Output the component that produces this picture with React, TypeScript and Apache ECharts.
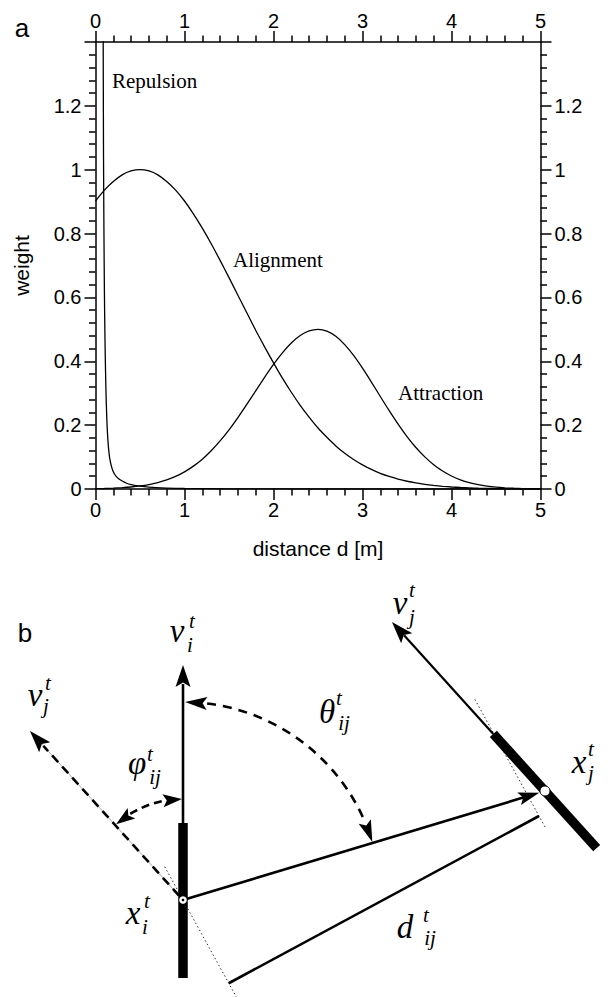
import React, { useEffect, useRef } from 'react';
import * as echarts from 'echarts';

// ---------- Data ----------
const distance = [0, 0.1, 0.2, 0.3, 0.4, 0.5, 0.6, 0.7, 0.8, 0.9, 1.0, 1.1, 1.2, 1.3, 1.4, 1.5, 1.6, 1.7, 1.8, 1.9, 2.0, 2.1, 2.2, 2.3, 2.4, 2.5, 2.6, 2.7, 2.8, 2.9, 3.0, 3.1, 3.2, 3.3, 3.4, 3.5, 3.6, 3.7, 3.8, 3.9, 4.0, 4.1, 4.2, 4.3, 4.4, 4.5, 4.6, 4.7, 4.8, 4.9, 5.0];
const alignment = [0.902, 0.936, 0.963, 0.984, 0.996, 1.0, 0.996, 0.984, 0.963, 0.936, 0.902, 0.862, 0.817, 0.768, 0.716, 0.662, 0.607, 0.552, 0.497, 0.445, 0.395, 0.347, 0.303, 0.262, 0.225, 0.191, 0.162, 0.135, 0.112, 0.0925, 0.0756, 0.0612, 0.0492, 0.0392, 0.031, 0.0243, 0.0189, 0.0145, 0.0111, 0.0084, 0.0063, 0.0047, 0.0035, 0.0025, 0.0018, 0.0013, 0.0009, 0.0006, 0.0004, 0.0003, 0.0002];
const attraction = [0.001, 0.0016, 0.0026, 0.0041, 0.0063, 0.0095, 0.0139, 0.0201, 0.0284, 0.0394, 0.0537, 0.0716, 0.0935, 0.12, 0.1506, 0.1854, 0.2238, 0.265, 0.3075, 0.3499, 0.3902, 0.4265, 0.4573, 0.4805, 0.495, 0.5, 0.4945, 0.4782, 0.4523, 0.4184, 0.3785, 0.335, 0.2897, 0.2452, 0.2029, 0.1642, 0.1299, 0.1006, 0.0762, 0.0564, 0.0408, 0.0289, 0.02, 0.0136, 0.009, 0.0058, 0.0037, 0.0023, 0.0014, 0.0008, 0.0005];
const repulsionD = [0.086, 0.09, 0.095, 0.1, 0.105, 0.11, 0.115, 0.12, 0.13, 0.14, 0.15, 0.16, 0.18, 0.2, 0.23, 0.26, 0.3, 0.35, 0.4, 0.48, 0.6, 0.8, 1.0, 1.5, 2.0, 3.0, 5.0];
const repulsionW = [1.45, 1.05, 0.8, 0.62, 0.5, 0.41, 0.34, 0.28, 0.2, 0.15, 0.118, 0.096, 0.07, 0.054, 0.04, 0.032, 0.025, 0.018, 0.014, 0.01, 0.006, 0.003, 0.0015, 0.0005, 0.0002, 0, 0];
const seriesNames = ['Repulsion', 'Alignment', 'Attraction'];
const xName = 'distance d [m]';
const yName = 'weight';

// ---------- Diagram helpers (panel b) ----------
const deg = Math.PI / 180;
const norm = (x: number, y: number) => { const n = Math.hypot(x, y); return [x / n, y / n]; };
const BLACK = '#000';

function arrowHead(tx: number, ty: number, dx: number, dy: number, len = 21, hw = 7) {
  const [ux, uy] = norm(dx, dy);
  const bx = tx - ux * len, by = ty - uy * len;
  const px = -uy, py = ux;
  const nx = tx - ux * len * 0.8, ny = ty - uy * len * 0.8;
  return {
    type: 'polygon', silent: true, z: 20,
    shape: { points: [[tx, ty], [bx + px * hw, by + py * hw], [nx, ny], [bx - px * hw, by - py * hw]] },
    style: { fill: BLACK },
  };
}
function seg(x1: number, y1: number, x2: number, y2: number, w: number, extra: any = {}) {
  return { type: 'line', silent: true, z: 10, shape: { x1, y1, x2, y2 }, style: { stroke: BLACK, lineWidth: w, fill: null, ...extra } };
}
function label(x: number, y: number, text: string, size: number, italic = true, family = '"Liberation Serif", "Times New Roman", serif', align = 'center', lh?: number) {
  return {
    type: 'text', silent: true, z: 30, x, y,
    style: { text, fontSize: size, fontFamily: family, fontStyle: italic ? 'italic' : 'normal', fill: BLACK, align, verticalAlign: 'middle', lineHeight: lh ?? Math.round(size * 0.8) },
  };
}
function arcArrow(cx: number, cy: number, r: number, tipAng: number, baseAng: number, len: number, hw: number) {
  const tx = cx + r * Math.cos(tipAng * deg), ty = cy + r * Math.sin(tipAng * deg);
  const bx = cx + r * Math.cos(baseAng * deg), by = cy + r * Math.sin(baseAng * deg);
  return arrowHead(tx, ty, tx - bx, ty - by, len, hw);
}

function buildDiagram() {
  const Pi = [183, 900];
  const Pj = [545, 791];
  const [ux, uy] = norm(-0.671, -0.741);       // heading of j
  const [nx, ny] = norm(0.4816, 0.8763);       // dimension extension direction
  const [dx, dy] = norm(Pj[0] - Pi[0], Pj[1] - Pi[1]);
  const half = 77, vlen = 228;
  const A = [539, 816];
  const els: any[] = [];

  // grey guide + dashed copy of v_j at x_i
  els.push(seg(Pi[0], Pi[1], Pi[0] + ux * 212, Pi[1] + uy * 212, 1, { stroke: '#aaa' }));
  els.push(seg(Pi[0] + ux * 6, Pi[1] + uy * 6, Pi[0] + ux * 208, Pi[1] + uy * 208, 2.6, { lineDash: [9, 6] }));
  els.push(arrowHead(Pi[0] + ux * vlen, Pi[1] + uy * vlen, ux, uy, 22, 7.5));

  // dotted extension lines
  els.push(seg(Pi[0] - nx * 38, Pi[1] - ny * 38, Pi[0] + nx * 112, Pi[1] + ny * 112, 1, { lineDash: [1.5, 2.5], stroke: '#333' }));
  els.push(seg(A[0] - nx * 133, A[1] - ny * 133, A[0] + nx * 13, A[1] + ny * 13, 1, { lineDash: [1.5, 2.5], stroke: '#333' }));

  // v_i
  els.push(seg(Pi[0], Pi[1] - half, Pi[0], 684, 2.6));
  els.push(arrowHead(Pi[0], 665, 0, -1, 22, 7.5));

  // bars
  els.push(seg(Pi[0], Pi[1] - half, Pi[0], Pi[1] + half + 1, 9.5));
  els.push(seg(Pj[0] + ux * half, Pj[1] + uy * half, Pj[0] - ux * half, Pj[1] - uy * half, 9.5));

  // v_j
  els.push(seg(Pj[0] + ux * half, Pj[1] + uy * half, Pj[0] + ux * (vlen - 18), Pj[1] + uy * (vlen - 18), 2.2));
  els.push(arrowHead(Pj[0] + ux * vlen, Pj[1] + uy * vlen, ux, uy, 22, 7.5));

  // x_i -> x_j
  els.push(seg(Pi[0], Pi[1], Pj[0] - dx * 22, Pj[1] - dy * 22, 2.6));
  els.push(arrowHead(Pj[0] - dx * 6, Pj[1] - dy * 6, dx, dy, 21, 6.5));

  // d_ij dimension line
  els.push(seg(Pi[0] + nx * 95, Pi[1] + ny * 95, A[0], A[1], 2.6));

  // theta arc
  const rT = 198;
  els.push({ type: 'arc', silent: true, z: 10, shape: { cx: Pi[0], cy: Pi[1], r: rT, startAngle: -83 * deg, endAngle: -23.5 * deg, clockwise: true }, style: { stroke: BLACK, lineWidth: 2.6, lineDash: [9, 7], fill: null } });
  els.push(arcArrow(Pi[0], Pi[1], rT, -89.4, -82.5, 22, 6.5));
  els.push(arcArrow(Pi[0], Pi[1], rT, -17, -23.5, 22, 6.5));

  // phi arc
  const rP = 101;
  els.push({ type: 'arc', silent: true, z: 10, shape: { cx: Pi[0], cy: Pi[1], r: rP, startAngle: -121.5 * deg, endAngle: -100.5 * deg, clockwise: true }, style: { stroke: BLACK, lineWidth: 2.6, lineDash: [8, 5], fill: null } });
  els.push(arcArrow(Pi[0], Pi[1], rP, -90.6, -100.5, 19, 6.5));
  els.push(arcArrow(Pi[0], Pi[1], rP, -131.5, -120.5, 19, 6.5));

  // position markers
  els.push({ type: 'circle', silent: true, z: 25, shape: { cx: Pi[0], cy: Pi[1], r: 3.8 }, style: { fill: '#fff', stroke: null } });
  els.push({ type: 'circle', silent: true, z: 26, shape: { cx: Pi[0], cy: Pi[1], r: 1.3 }, style: { fill: BLACK } });
  els.push({ type: 'circle', silent: true, z: 25, shape: { cx: Pj[0], cy: Pj[1], r: 5 }, style: { fill: '#fff', stroke: BLACK, lineWidth: 1 } });

  // math labels
  const M = 33, S = 21;
  els.push(label(177, 631, 'v', M), label(192, 621, 't', S), label(190, 645, 'i', S));
  els.push(label(35, 695, 'v', M), label(48, 683, 't', S), label(46, 706, 'j', S));
  els.push(label(137, 763, 'φ', M), label(150, 754, 't', S), label(155, 777, 'ij', S));
  els.push(label(327, 712, 'θ', M), label(339, 698, 't', S), label(344, 723, 'ij', S));
  els.push(label(400, 603, 'v', M), label(412, 590, 't', S), label(412, 617, 'j', S));
  els.push(label(579, 762, 'x', M), label(591, 749, 't', S), label(591, 773, 'j', S));
  els.push(label(133, 913, 'x', M), label(147, 901, 't', S), label(145, 927, 'i', S));
  els.push(label(405, 927, 'd', M), label(426, 915, 't', S), label(430, 938, 'ij', S));
  return els;
}

export default function App() {
  const ref = useRef<HTMLDivElement>(null);
  useEffect(() => {
    if (!ref.current) return;
    const chart = echarts.init(ref.current, null, { renderer: 'svg' });
    const sans = '"Liberation Sans", Arial, Helvetica, sans-serif';
    const serif = '"Liberation Serif", "Times New Roman", serif';
    const axisLine = { show: true, onZero: false, lineStyle: { color: BLACK, width: 1.5 } };
    const axisTick = { show: true, length: 11, lineStyle: { color: BLACK, width: 1.5 } };
    const minorTick = { show: true, splitNumber: 5, length: 6.5, lineStyle: { color: BLACK, width: 1.5 } };
    const lbl = { color: BLACK, fontSize: 20, fontFamily: sans };
    const yFmt = (v: number) => (v > 1.3 ? '' : String(Number(v.toFixed(1))));
    const xBase = { type: 'value', min: 0, max: 5, interval: 1, axisLine, axisTick, minorTick, splitLine: { show: false }, minorSplitLine: { show: false } };
    const yBase = { type: 'value', min: 0, max: 1.4, interval: 0.2, axisLine, axisTick, minorTick, splitLine: { show: false }, minorSplitLine: { show: false } };
    const lineStyle = { color: BLACK, width: 1.3 };
    chart.setOption({
      animation: false,
      backgroundColor: '#fff',
      grid: { left: 95.5, top: 42, width: 445, height: 447, containLabel: false },
      xAxis: [
        { ...xBase, position: 'bottom', axisLabel: { ...lbl, margin: 11 }, name: xName, nameLocation: 'middle', nameGap: 49, nameTextStyle: { color: BLACK, fontSize: 21, fontFamily: sans } },
        { ...xBase, position: 'top', axisLabel: { ...lbl, margin: 11 } },
      ],
      yAxis: [
        { ...yBase, position: 'left', axisLabel: { ...lbl, margin: 14, formatter: yFmt }, name: yName, nameLocation: 'middle', nameGap: 64, nameTextStyle: { color: BLACK, fontSize: 21, fontFamily: sans } },
        { ...yBase, position: 'right', axisLabel: { ...lbl, margin: 14, formatter: yFmt } },
      ],
      series: [
        { type: 'line', name: seriesNames[0], data: repulsionD.map((d, i) => [d, repulsionW[i]]), symbol: 'none', lineStyle, clip: true, silent: true, smooth: 0.25 },
        { type: 'line', name: seriesNames[1], data: distance.map((d, i) => [d, alignment[i]]), symbol: 'none', lineStyle, clip: true, silent: true, smooth: 0.25 },
        { type: 'line', name: seriesNames[2], data: distance.map((d, i) => [d, attraction[i]]), symbol: 'none', lineStyle, clip: true, silent: true, smooth: 0.25 },
      ],
      graphic: [
        label(22, 28, 'a', 26, false, sans, 'center', 26),
        label(25, 633, 'b', 26, false, sans, 'center', 26),
        label(112, 81, seriesNames[0], 21, false, serif, 'left', 21),
        label(233, 260, seriesNames[1], 21, false, serif, 'left', 21),
        label(398, 393, seriesNames[2], 21, false, serif, 'left', 21),
        ...buildDiagram(),
      ],
    });
    return () => chart.dispose();
  }, []);
  return <div ref={ref} style={{ position: 'absolute', left: 0, top: 0, width: 610, height: 997 }} />;
}
